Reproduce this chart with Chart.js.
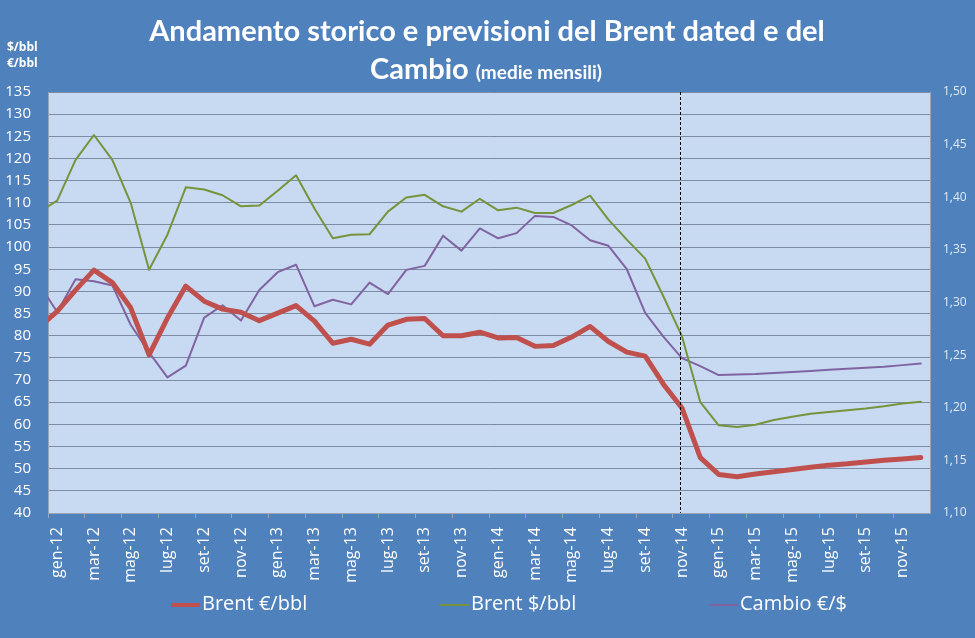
<!DOCTYPE html>
<html>
<head>
<meta charset="utf-8">
<script src="https://cdn.jsdelivr.net/npm/chart.js@4.4.0/dist/chart.umd.min.js"></script>
<style>
  body { margin: 0; background: #4f81bd; }
  #box { width: 975px; height: 638px; }
</style>
</head>
<body>
<div id="box"><canvas id="myChart" width="975" height="638"></canvas></div>
<script>
// mesi (dic-11 resta fuori dal grafico, serve solo per il primo tratto)
var mesi = ['dic-11',
  'gen-12','feb-12','mar-12','apr-12','mag-12','giu-12','lug-12','ago-12','set-12','ott-12','nov-12','dic-12',
  'gen-13','feb-13','mar-13','apr-13','mag-13','giu-13','lug-13','ago-13','set-13','ott-13','nov-13','dic-13',
  'gen-14','feb-14','mar-14','apr-14','mag-14','giu-14','lug-14','ago-14','set-14','ott-14','nov-14','dic-14',
  'gen-15','feb-15','mar-15','apr-15','mag-15','giu-15','lug-15','ago-15','set-15','ott-15','nov-15','dic-15'];

var brentEuro = [81.9,
  85.5, 90.3, 94.8, 92.0, 86.3, 75.7, 84.0, 91.2, 87.8, 86.0, 85.3, 83.4,
  85.1, 86.8, 83.3, 78.3, 79.2, 78.1, 82.4, 83.7, 83.9, 80.0, 80.0, 80.8,
  79.5, 79.6, 77.6, 77.8, 79.7, 82.1, 78.7, 76.3, 75.4, 69.0, 63.7, 52.5,
  48.7, 48.2, 48.8, 49.3, 49.8, 50.3, 50.8, 51.1, 51.5, 51.9, 52.2, 52.5];

var brentDollaro = [107.9,
  110.5, 119.7, 125.3, 119.7, 110.0, 94.9, 102.8, 113.5, 113.0, 111.7, 109.2, 109.4,
  112.7, 116.2, 108.7, 102.0, 102.8, 102.9, 108.0, 111.2, 111.8, 109.2, 108.0, 110.9,
  108.3, 108.9, 107.7, 107.7, 109.5, 111.6, 106.2, 101.7, 97.4, 88.8, 79.9, 65.0,
  59.8, 59.4, 59.9, 61.0, 61.7, 62.4, 62.8, 63.2, 63.6, 64.1, 64.7, 65.1];

var cambio = [1.3179,
  1.2910, 1.3220, 1.3201, 1.3162, 1.2789, 1.2526, 1.2288, 1.2400, 1.2856, 1.2974, 1.2828, 1.3119,
  1.3288, 1.3359, 1.2964, 1.3026, 1.2982, 1.3189, 1.3080, 1.3310, 1.3348, 1.3635, 1.3493, 1.3704,
  1.3610, 1.3659, 1.3823, 1.3813, 1.3732, 1.3592, 1.3539, 1.3316, 1.2901, 1.2673, 1.2472, 1.2395,
  1.2310, 1.2315, 1.2320, 1.2330, 1.2340, 1.2350, 1.2360, 1.2370, 1.2380, 1.2390, 1.2405, 1.2420];

var meseInizio = 'gen-12';
var meseConsuntivo = 'nov-14';   // linea tratteggiata

// sfondo blu + area del grafico azzurra
var sfondo = {
  id: 'sfondo',
  beforeDraw: function(chart) {
    var c = chart.ctx, a = chart.chartArea;
    c.save();
    c.fillStyle = '#4f81bd';
    c.fillRect(0, 0, chart.width, chart.height);
    c.fillStyle = '#c8daf1';
    c.fillRect(a.left, a.top, a.right - a.left, a.bottom - a.top);
    c.restore();
  }
};

// linea verticale tratteggiata
var tratteggio = {
  id: 'tratteggio',
  afterDatasetsDraw: function(chart) {
    var c = chart.ctx, a = chart.chartArea;
    var x = Math.round(chart.scales.x.getPixelForValue(mesi.indexOf(meseConsuntivo))) - 1.5;
    c.save();
    c.strokeStyle = '#000';
    c.lineWidth = 1;
    c.setLineDash([3, 2]);
    c.beginPath();
    c.moveTo(x, a.top);
    c.lineTo(x, a.bottom);
    c.stroke();
    c.restore();
  }
};

// titolo, unita di misura e legenda
var testi = {
  id: 'testi',
  afterDraw: function(chart) {
    var c = chart.ctx;
    c.save();
    c.fillStyle = '#fff';
    c.textBaseline = 'alphabetic';

    c.textAlign = 'center';
    c.font = 'bold 29px Lato';
    c.fillText('Andamento storico e previsioni del Brent dated e del', 487, 41);

    c.textAlign = 'left';
    c.font = 'bold 29px Lato';
    var w1 = c.measureText('Cambio ').width;
    c.font = 'bold 19px Lato';
    var w2 = c.measureText('(medie mensili)').width;
    var x0 = 486 - (w1 + w2) / 2;
    c.font = 'bold 29px Lato';
    c.fillText('Cambio ', x0, 79);
    c.font = 'bold 19px Lato';
    c.fillText('(medie mensili)', x0 + w1, 79);

    c.font = 'bold 12px "Open Sans"';
    c.fillText('$/bbl', 7, 51);
    c.fillText('€/bbl', 7, 67);

    // legenda
    c.font = '20px "Open Sans"';
    c.textBaseline = 'middle';
    chart.data.datasets.forEach(function(ds, i) {
      var lx = 171 + i * 269;
      c.strokeStyle = ds.borderColor;
      c.lineWidth = Math.min(ds.borderWidth, 4);
      c.beginPath();
      c.moveTo(lx, 605);
      c.lineTo(lx + 29, 605);
      c.stroke();
      c.fillText(ds.label, lx + 31, 604);
    });
    c.restore();
  }
};

var ctx = document.getElementById('myChart');
var grafico = new Chart(ctx.getContext('2d'), {
  type: 'line',
  data: {
    labels: mesi,
    datasets: [{
      label: 'Brent €/bbl',
      data: brentEuro,
      borderColor: '#c0504d',
      borderWidth: 5,
      yAxisID: 'y',
      clip: 0
    }, {
      label: 'Brent $/bbl',
      data: brentDollaro,
      borderColor: '#77933c',
      borderWidth: 2,
      yAxisID: 'y',
      clip: 0
    }, {
      label: 'Cambio €/$',
      data: cambio,
      borderColor: '#8064a2',
      borderWidth: 2,
      yAxisID: 'y1',
      clip: 0
    }]
  },
  options: {
    responsive: false,
    animation: false,
    layout: { padding: { top: 92, bottom: 55, left: 0, right: 0 } },
    elements: {
      point: { radius: 0 },
      line: { tension: 0, borderJoinStyle: 'round', borderCapStyle: 'round' }
    },
    plugins: {
      legend: { display: false },
      title: { display: false },
      tooltip: { enabled: false }
    },
    scales: {
      x: {
        type: 'category',
        min: meseInizio,
        offset: true,
        grid: {
          offset: true,
          drawOnChartArea: false,
          tickLength: 5,
          tickColor: function(c) { return c.index % 2 === 0 ? '#9aa8bd' : 'rgba(0,0,0,0)'; }
        },
        border: { color: '#9aa6b8' },
        ticks: {
          autoSkip: false,
          minRotation: 90,
          maxRotation: 90,
          padding: 9,
          color: '#fff',
          font: { family: 'Open Sans', size: 16 },
          callback: function(v, i) { return i % 2 === 0 ? this.getLabelForValue(v) : ''; }
        },
        afterFit: function(s) { s.height = 70; }
      },
      y: {
        position: 'left',
        min: 40,
        max: 135,
        ticks: { stepSize: 5, color: '#fff', padding: 17, font: { family: 'Open Sans', size: 15 } },
        grid: { color: '#7d8ba3', drawTicks: false },
        border: { color: '#9aa6b8' },
        afterFit: function(s) { s.width = 48; }
      },
      y1: {
        position: 'right',
        min: 1.10,
        max: 1.50,
        ticks: {
          stepSize: 0.05,
          color: '#e2eaf5',
          padding: 13,
          font: { family: 'Open Sans', size: 12 },
          callback: function(v) { return v.toFixed(2).replace('.', ','); }
        },
        grid: { drawOnChartArea: false, drawTicks: false },
        border: { color: '#9aa6b8' },
        afterFit: function(s) { s.width = 45; }
      }
    }
  },
  plugins: [sfondo, tratteggio, testi]
});
</script>
</body>
</html>
